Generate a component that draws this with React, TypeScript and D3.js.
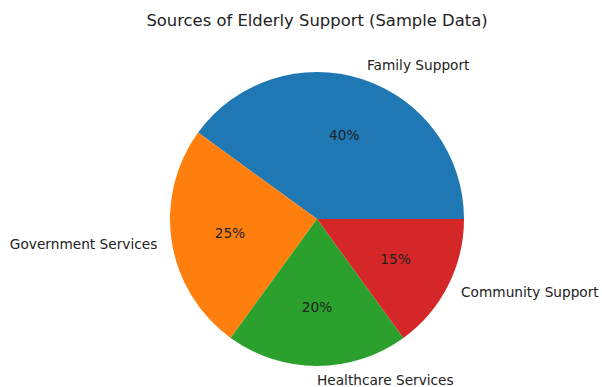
import React from "react";
import * as d3 from "d3";

const labels = ["Family Support", "Government Services", "Healthcare Services", "Community Support"];
const values = [40, 25, 20, 15];
const colors = ["#1f77b4", "#ff7f0e", "#2ca02c", "#d62728"];
const title = "Sources of Elderly Support (Sample Data)";

export default function App() {
  const W = 602, H = 387;
  const cx = 317, cy = 219, r = 147;
  const pie = d3.pie<number>().sort(null).startAngle(Math.PI / 2).endAngle(Math.PI / 2 - 2 * Math.PI);
  const arcs = pie(values);
  const arc = d3.arc<d3.PieArcDatum<number>>().innerRadius(0).outerRadius(r);
  const total = d3.sum(values);
  const font = "DejaVu Sans, sans-serif";
  return (
    <svg width={W} height={H} style={{ position: "fixed", left: 0, top: 0, background: "#fff" }}>
      <text x={cx} y={26} textAnchor="middle" fontFamily={font} fontSize={16.4} fill="#222">{title}</text>
      <g transform={`translate(${cx},${cy})`}>
        {arcs.map((a, i) => (
          <path key={i} d={arc(a) || ""} fill={colors[i]} />
        ))}
        {arcs.map((a, i) => {
          const m = (a.startAngle + a.endAngle) / 2;
          const lx = 1.1 * r * Math.sin(m);
          const ly = -1.1 * r * Math.cos(m);
          const px = 0.6 * r * Math.sin(m);
          const py = -0.6 * r * Math.cos(m);
          const anchor = lx > -1e-6 ? "start" : "end";
          return (
            <g key={"t" + i}>
              <text x={lx} y={ly} dy="0.35em" textAnchor={anchor} fontFamily={font} fontSize={13.7} fill="#222">{labels[i]}</text>
              <text x={px} y={py} dy="0.35em" textAnchor="middle" fontFamily={font} fontSize={13.7} fill="#222">{`${Math.round((values[i] / total) * 100)}%`}</text>
            </g>
          );
        })}
      </g>
    </svg>
  );
}
